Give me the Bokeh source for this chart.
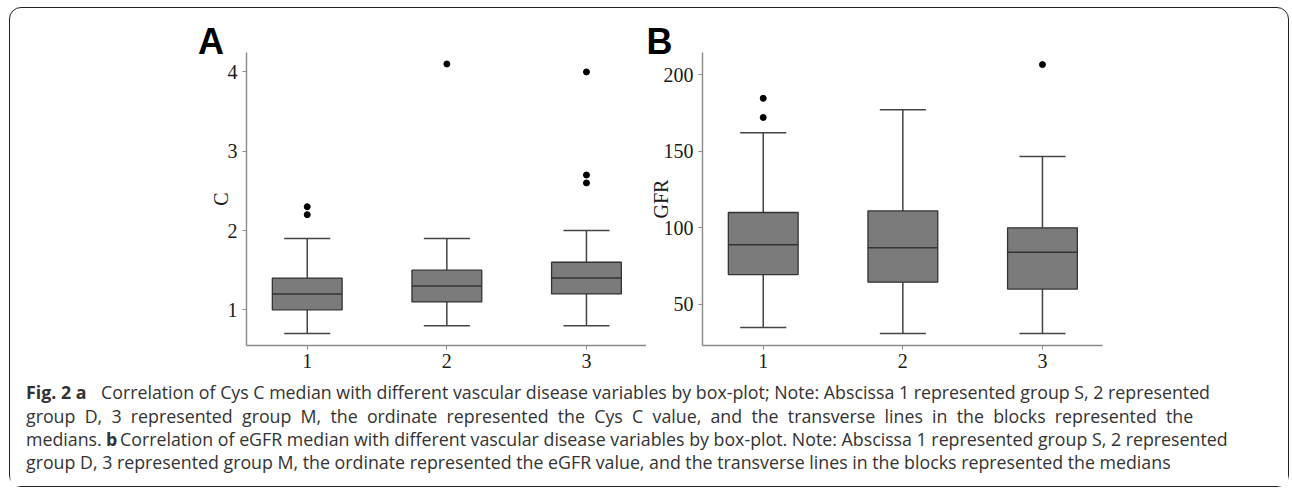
from bokeh.plotting import figure
from bokeh.models import Range1d, FixedTicker, Label, Spacer, ColumnDataSource, Title
from bokeh.layouts import column, row
from bokeh.embed import file_html
from bokeh.resources import INLINE

# ---------------- data ----------------
groups = [1, 2, 3]
group_labels = ["1", "2", "3"]

# Panel A: Cys C
cys_low = [0.7, 0.8, 0.8]
cys_q1 = [1.0, 1.1, 1.2]
cys_med = [1.2, 1.3, 1.4]
cys_q3 = [1.4, 1.5, 1.6]
cys_high = [1.9, 1.9, 2.0]
cys_out_x = [1, 1, 2, 3, 3, 3]
cys_out_y = [2.2, 2.3, 4.1, 2.6, 2.7, 4.0]
cys_ticks = [1, 2, 3, 4]

# Panel B: eGFR
gfr_low = [35, 31, 31]
gfr_q1 = [69.5, 64.5, 60]
gfr_med = [89, 87, 84]
gfr_q3 = [110, 111, 100]
gfr_high = [162, 177, 146.5]
gfr_out_x = [1, 1, 3]
gfr_out_y = [172, 184.5, 206.5]
gfr_ticks = [50, 100, 150, 200]

panel_letters = ["A", "B"]
axis_titles = ["C", "GFR"]
caption_lines = [
    [("Fig. 2 a", "bold"), ("Correlation of Cys C median with different vascular disease variables by box-plot; Note: Abscissa 1 represented group S, 2 represented", "normal")],
    [(" \u00a0".join("group D, 3 represented group M, the ordinate represented the Cys C value, and the transverse lines in the blocks represented the".split(" ")), "normal")],
    [("medians.", "normal"), ("b", "bold"), ("Correlation of eGFR median with different vascular disease variables by box-plot. Note: Abscissa 1 represented group S, 2 represented", "normal")],
    [("group D, 3 represented group M, the ordinate represented the eGFR value, and the transverse lines in the blocks represented the medians", "normal")],
]
caption_x = [[15.5, 90.5], [15.5], [15.5, 95.5, 109.5], [15.5]]

SERIF = "Liberation Serif"
BOX_FILL = "#7b7b7b"
DARK = "#333333"
AXIS = "#8a8a8a"


def box_panel(low, q1, med, q3, high, out_x, out_y, yr, yticks, ylabel, lb, rb,
              label_standoff, letter, letter_dx):
    p = figure(frame_width=400, frame_height=293,
               x_range=Range1d(0.565, 3.43), y_range=Range1d(*yr),
               output_backend="svg", toolbar_location=None,
               min_border_left=lb, min_border_right=rb,
               min_border_top=44, min_border_bottom=25)
    p.title = Title(text=letter, align="left", offset=letter_dx, standoff=-18,
                    vertical_align="bottom", text_font="Liberation Sans",
                    text_font_style="bold", text_font_size="36px", text_color="black")
    hb, hc = 0.25, 0.165
    src = ColumnDataSource(dict(
        x=groups, low=low, q1=q1, med=med, q3=q3, high=high,
        bl=[g - hb for g in groups], br=[g + hb for g in groups],
        cl=[g - hc for g in groups], cr=[g + hc for g in groups]))
    wk = dict(source=src, line_color="#444444", line_width=1.5)
    p.segment(x0="x", y0="q3", x1="x", y1="high", **wk)
    p.segment(x0="x", y0="low", x1="x", y1="q1", **wk)
    p.segment(x0="cl", y0="high", x1="cr", y1="high", **wk)
    p.segment(x0="cl", y0="low", x1="cr", y1="low", **wk)
    p.vbar(x="x", width=2 * hb, bottom="q1", top="q3", source=src,
           fill_color=BOX_FILL, line_color=DARK, line_width=1.3)
    p.segment(x0="bl", y0="med", x1="br", y1="med", source=src,
              line_color=DARK, line_width=1.5)
    p.scatter(out_x, out_y, size=6, color="black")

    p.xaxis.ticker = FixedTicker(ticks=groups)
    p.xaxis.major_label_overrides = {g: l for g, l in zip(groups, group_labels)}
    p.yaxis.ticker = FixedTicker(ticks=yticks)
    p.yaxis.axis_label = ylabel
    for ax in (p.xaxis[0], p.yaxis[0]):
        ax.axis_line_color = AXIS
        ax.axis_line_width = 1.4
        ax.major_tick_line_color = AXIS
        ax.major_tick_in = 0
        ax.major_tick_out = 4
        ax.minor_tick_line_color = None
        ax.major_label_text_font = SERIF
        ax.major_label_text_font_size = "20px"
        ax.major_label_text_color = "#1a1a1a"
        ax.major_label_standoff = 5
        ax.axis_label_text_font = SERIF
        ax.axis_label_text_font_size = "20px"
        ax.axis_label_text_font_style = "normal"
        ax.axis_label_text_color = "#1a1a1a"
    p.xaxis.major_label_standoff = 4
    p.yaxis.axis_label_standoff = label_standoff
    p.grid.visible = False
    p.outline_line_color = None
    p.background_fill_color = "white"
    p.border_fill_color = "white"
    return p


pa = box_panel(cys_low, cys_q1, cys_med, cys_q3, cys_high, cys_out_x, cys_out_y,
               (0.55, 4.245), cys_ticks, axis_titles[0], 60, 0, -7,
               panel_letters[0], -48.5)
pb = box_panel(gfr_low, gfr_q1, gfr_med, gfr_q3, gfr_high, gfr_out_x, gfr_out_y,
               (23.2, 214.4), gfr_ticks, axis_titles[1], 56, 10, -11,
               panel_letters[1], -56)

W = 1278

# caption
cap = figure(width=W, height=116, x_range=Range1d(0, 1), y_range=Range1d(0, 1),
             output_backend="svg", toolbar_location=None,
             min_border=0, min_border_left=0, min_border_right=0,
             min_border_top=0, min_border_bottom=0)
cap.axis.visible = False
cap.grid.visible = False
cap.outline_line_color = None
line_y = [94.5, 70.5, 47.5, 24.5]
for parts, xs, ly in zip(caption_lines, caption_x, line_y):
    for (txt, style), lx in zip(parts, xs):
        cap.add_layout(Label(x=lx, y=ly, x_units="screen", y_units="screen", text=txt,
                             text_font="Open Sans", text_font_style=style,
                             text_font_size="17.8px", text_color="#333333",
                             text_baseline="middle"))

layout = column(row(Spacer(width=176, height=10), pa, pb), cap,
                styles={"border": "1.5px solid #222", "border-radius": "12px",
                        "margin": "7px 0 0 9px"})

open("out.html", "w").write(file_html(layout, INLINE))
